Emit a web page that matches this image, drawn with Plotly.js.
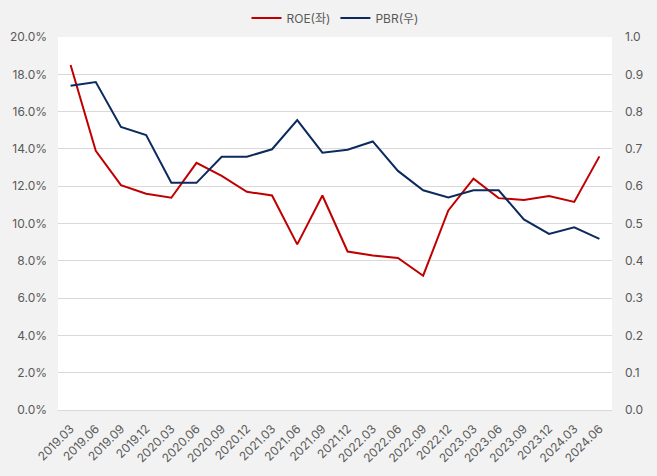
<!DOCTYPE html>
<html>
<head>
<meta charset="utf-8">
<script src="https://cdn.plot.ly/plotly-3.0.1.min.js"></script>
<style>html,body{margin:0;padding:0;background:#f2f2f2;}#chart{width:657px;height:476px;}</style>
</head>
<body>
<div id="chart"></div>
<script>
const categories = ["2019.03","2019.06","2019.09","2019.12","2020.03","2020.06","2020.09","2020.12","2021.03","2021.06","2021.09","2021.12","2022.03","2022.06","2022.09","2022.12","2023.03","2023.06","2023.09","2023.12","2024.03","2024.06"];
const roe = [18.5,13.9,12.06,11.6,11.38,13.25,12.55,11.7,11.5,8.88,11.5,8.5,8.28,8.15,7.2,10.7,12.4,11.36,11.26,11.47,11.16,13.6];
const pbr = [0.869,0.879,0.759,0.737,0.609,0.609,0.679,0.679,0.699,0.777,0.69,0.698,0.72,0.641,0.589,0.57,0.589,0.589,0.511,0.472,0.49,0.459];

const font = "Inter, 'Noto Sans CJK KR', sans-serif";
const traces = [
  {x: categories, y: roe, name: "ROE(좌)", type: "scatter", mode: "lines",
   line: {color: "#c00000", width: 2}, yaxis: "y"},
  {x: categories, y: pbr, name: "PBR(우)", type: "scatter", mode: "lines",
   line: {color: "#0c2a5e", width: 2}, yaxis: "y2"}
];
const layout = {
  width: 657, height: 476,
  paper_bgcolor: "#f2f2f2", plot_bgcolor: "#ffffff",
  margin: {l: 58, r: 45, t: 37, b: 66, pad: 0, autoexpand: false},
  font: {family: font, size: 12, color: "#595959"},
  showlegend: true,
  legend: {orientation: "h", x: 0.5, xanchor: "center", yref: "container", y: 0.962, yanchor: "middle",
           font: {size: 12, color: "#595959"}, bgcolor: "rgba(0,0,0,0)", itemwidth: 30},
  xaxis: {type: "category", range: [-0.5, categories.length - 0.5], tickangle: -45,
          showgrid: false, zeroline: false, showline: true, linecolor: "#d9d9d9", linewidth: 1,
          ticks: "outside", ticklen: 6, tickcolor: "rgba(0,0,0,0)",
          tickfont: {size: 12, color: "#595959"}},
  yaxis: {range: [0, 20], dtick: 2, tickformat: ".1f", ticksuffix: "%",
          gridcolor: "#d9d9d9", gridwidth: 1, zeroline: false, showline: false,
          ticks: "", ticklabelstandoff: 10, tickfont: {size: 12, color: "#595959"}},
  yaxis2: {range: [0, 1], dtick: 0.1, tickformat: ".1f", overlaying: "y", side: "right",
           showgrid: false, zeroline: false, showline: false, ticks: "", ticklabelstandoff: 12,
           tickfont: {size: 12, color: "#595959"}}
};
Plotly.newPlot("chart", traces, layout, {displayModeBar: false, staticPlot: true});
</script>
</body>
</html>
